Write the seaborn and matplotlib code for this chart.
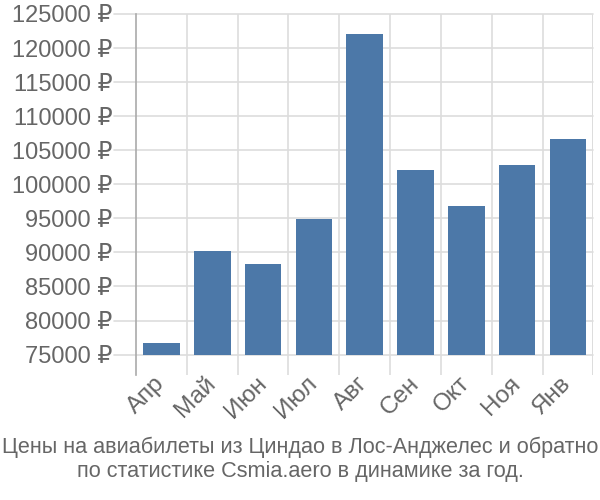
import matplotlib
matplotlib.use("Agg")
import matplotlib.pyplot as plt
import matplotlib.transforms as mtrans
import seaborn as sns
import pandas as pd
import numpy as np

months = ["Апр", "Май", "Июн", "Июл", "Авг", "Сен", "Окт", "Ноя", "Янв"]
prices = [76750, 90250, 88300, 94900, 122050, 102100, 96800, 102900, 106700]
yticks = [75000, 80000, 85000, 90000, 95000, 100000, 105000, 110000, 115000, 120000, 125000]
caption = ["Цены на авиабилеты из Циндао в Лос-Анджелес и обратно",
           "по статистике Csmia.aero в динамике за год."]

sns.set_theme(style="white")
plt.rcParams['font.family'] = ['Liberation Sans', 'DejaVu Sans']

base = 75000
df = pd.DataFrame({"month": months, "h": [p - base for p in prices]})

fig = plt.figure(figsize=(6, 5), dpi=100)
ax_w = 0.989 - 0.2267
ax = fig.add_axes([0.2267, 0.25, ax_w, 0.972 - 0.25])

sns.barplot(data=df, x="month", y="h", bottom=base, color="#4c78a8",
            saturation=1, width=0.72, ax=ax, zorder=3, edgecolor="none")

ax.set_xlim(-0.5, len(months) - 0.5)
ax.set_ylim(72000, 125000)
ax.set_yticks(yticks)
ax.set_yticklabels([f"{v} ₽" for v in yticks])
ax.set_xticks(range(len(months)))
ax.set_xticklabels(months, rotation=45, ha="right", rotation_mode="anchor")
ax.set_xlabel("")
ax.set_ylabel("")

grid_c = "#dddddd"
text_c = "#666666"
ax.grid(False)
ext = 22 / (ax_w * 600)
for y in yticks:
    ax.axhline(y, xmin=-ext, xmax=1, color=grid_c, lw=1.2, zorder=1, clip_on=False)
for x in np.arange(0.5, len(months)):
    ax.axvline(x, color=grid_c, lw=1.2, zorder=1)
ax.axvline(len(months) - 0.5, color=grid_c, lw=1.2, zorder=1)

for s in ["top", "right", "bottom"]:
    ax.spines[s].set_visible(False)
ax.spines["left"].set_color("#aaaaaa")
ax.spines["left"].set_linewidth(1.2)
ax.spines["left"].set_zorder(2)

ax.tick_params(axis="y", which="major", left=False, length=0,
               pad=17, labelsize=17, labelcolor=text_c)
ax.tick_params(axis="x", which="major", bottom=False, length=0, pad=1, labelsize=17.5,
               labelcolor=text_c)
off = mtrans.ScaledTranslation(-8 / 100, 4 / 100, fig.dpi_scale_trans)
for lab in ax.get_xticklabels():
    lab.set_transform(lab.get_transform() + off)

fig.text(0.5, 0.106, caption[0], ha="center", va="center", fontsize=15.6, color=text_c)
fig.text(0.5, 0.056, caption[1], ha="center", va="center", fontsize=15.6, color=text_c)

fig.savefig("out.png", dpi=100)
